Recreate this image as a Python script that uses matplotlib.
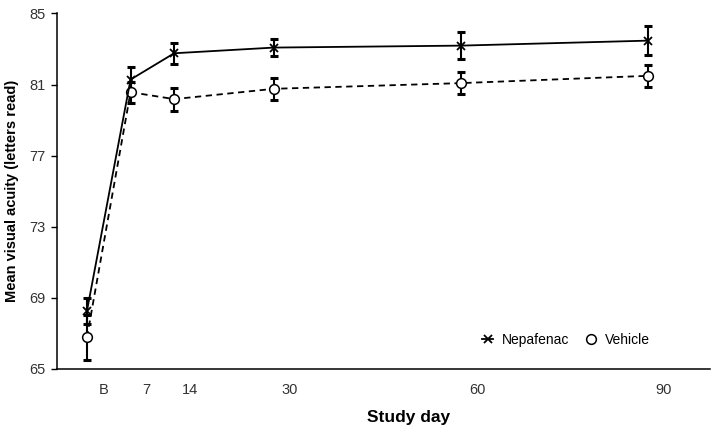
import numpy as np
import matplotlib
matplotlib.use("Agg")
import matplotlib.pyplot as plt

plt.rcParams['font.family'] = ['Liberation Sans', 'DejaVu Sans']

# ---- data ----
days = [0, 7, 14, 30, 60, 90]
day_labels = ["B", "7", "14", "30", "60", "90"]
nepafenac = [68.25, 81.28, 82.76, 83.08, 83.19, 83.47]
nepafenac_err = [0.75, 0.72, 0.6, 0.5, 0.78, 0.82]
vehicle = [66.77, 80.57, 80.18, 80.76, 81.08, 81.49]
vehicle_err = [1.25, 0.6, 0.65, 0.62, 0.62, 0.63]
y_ticks = [65, 69, 73, 77, 81, 85]

fig = plt.figure(figsize=(7.19, 4.34), dpi=100)
ax = fig.add_axes([0.0793, 0.150, 0.9082, 0.819])

# vehicle (dashed) with error bars
ax.plot(days, vehicle, color='black', linestyle=(0, (3.5, 2.5)), linewidth=1.3,
        marker='o', markersize=7, markerfacecolor='white', markeredgecolor='black',
        markeredgewidth=1.1, label='Vehicle', zorder=3)
ax.errorbar(days, vehicle, yerr=vehicle_err, fmt='none', ecolor='black',
            elinewidth=1.5, capsize=3, capthick=2.2, zorder=2)

# nepafenac (solid) with error bars
ax.plot(days, nepafenac, color='black', linestyle='-', linewidth=1.3,
        marker='x', markersize=6, markeredgewidth=1.3, label='Nepafenac', zorder=4)
ax.errorbar(days, nepafenac, yerr=nepafenac_err, fmt='none', ecolor='black',
            elinewidth=1.5, capsize=3, capthick=2.2, zorder=2)

ax.set_xlim(-4.8, 100)
ax.set_ylim(65, 85)
ax.set_yticks(y_ticks)
# the day labels sit ~2.6 days to the right of the points in the reference
ax.set_xticks([d + 2.6 for d in days])
ax.set_xticklabels(day_labels)

ax.tick_params(axis='x', length=0, pad=10, labelsize=10.5, labelcolor='#333333')
ax.tick_params(axis='y', direction='out', length=4, width=1, pad=4,
               labelsize=10.5, labelcolor='#333333')

ax.spines['top'].set_visible(False)
ax.spines['right'].set_visible(False)
ax.spines['left'].set_linewidth(1.1)
ax.spines['bottom'].set_linewidth(1.1)

ax.set_ylabel("Mean visual acuity (letters read)", fontsize=10.5, fontweight='bold', labelpad=8)
ax.set_xlabel("Study day", fontsize=12.5, fontweight='bold', labelpad=12)
ax.xaxis.set_label_coords(0.539, -0.115)

handles, labels = ax.get_legend_handles_labels()
ax.legend(handles[::-1], labels[::-1], loc='center', bbox_to_anchor=(0.780, 0.082),
          ncol=2, frameon=False, fontsize=10, handlelength=0.8, handletextpad=0.6,
          columnspacing=1.2)

fig.savefig("out.png", dpi=100)
